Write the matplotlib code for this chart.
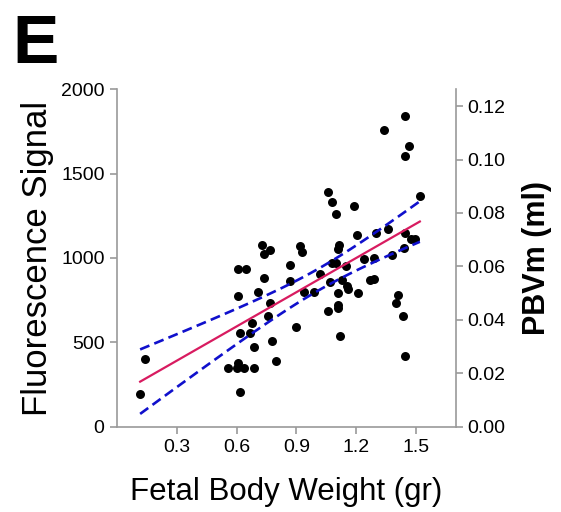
import numpy as np
import matplotlib
matplotlib.use("Agg")
import matplotlib.pyplot as plt

plt.rcParams['font.family'] = ['Liberation Sans', 'DejaVu Sans']

# Fetal body weight (gr) and fluorescence signal for each fetus
weight = [0.116, 0.138, 0.559, 0.601, 0.609, 0.639, 0.688, 0.619, 0.617, 0.668,
          0.680, 0.688, 0.609, 0.608, 0.649, 0.709, 0.739, 0.728, 0.739, 0.768,
          0.768, 0.758, 0.778, 0.798, 0.868, 0.868, 0.898, 0.918, 0.928, 0.940,
          0.989, 1.019, 1.061, 1.079, 1.099, 1.188, 1.061, 1.067, 1.077, 1.099,
          1.109, 1.116, 1.111, 1.111, 1.111, 1.119, 1.127, 1.151, 1.156, 1.161,
          1.209, 1.207, 1.239, 1.268, 1.289, 1.288, 1.299, 1.360, 1.338, 1.380,
          1.398, 1.410, 1.437, 1.447, 1.447, 1.468, 1.447, 1.448, 1.438, 1.478,
          1.498, 1.520]
signal = [194, 399, 346, 346, 379, 346, 346, 208, 557, 553,
          613, 474, 775, 937, 937, 798, 883, 1079, 1024, 1047,
          731, 656, 506, 387, 957, 866, 589, 1073, 1038, 798,
          798, 903, 1393, 1330, 1261, 1308, 688, 858, 972, 972,
          1055, 1075, 791, 723, 704, 540, 870, 953, 834, 816,
          791, 1138, 992, 870, 875, 1000, 1146, 1172, 1761, 1016,
          735, 779, 656, 421, 1842, 1664, 1603, 1146, 1057, 1111,
          1111, 1368]

x_ticks = [0.3, 0.6, 0.9, 1.2, 1.5]
left_ticks = [0, 500, 1000, 1500, 2000]
right_ticks = [0.00, 0.02, 0.04, 0.06, 0.08, 0.10, 0.12]

x = np.asarray(weight)
y = np.asarray(signal)

# Linear regression with 95% confidence band of the mean
n = len(x)
slope, intercept = np.polyfit(x, y, 1)
resid = y - (slope * x + intercept)
s = np.sqrt(np.sum(resid ** 2) / (n - 2))
sxx = np.sum((x - x.mean()) ** 2)
t_crit = 1.994  # t(0.975, df=70)
xf = np.linspace(x.min(), x.max(), 100)
yf = slope * xf + intercept
half = t_crit * s * np.sqrt(1.0 / n + (xf - x.mean()) ** 2 / sxx)

fig = plt.figure(figsize=(5.61, 5.12), dpi=100)
ax = fig.add_axes([0.2086, 0.1666, 0.6037, 0.659])

spine_col = '#9a9a9a'
ax.scatter(x, y, s=42, color='black', zorder=3, linewidths=0)
ax.plot(xf, yf, color='#d81b60', lw=1.6, zorder=4)
ax.plot(xf, yf + half, color='#1010cc', lw=1.9, ls=(0, (3.8, 2.0)), zorder=4)
ax.plot(xf, yf - half, color='#1010cc', lw=1.9, ls=(0, (3.8, 2.0)), zorder=4)

ax.set_xlim(0, 1.7)
ax.set_ylim(0, 2000)
ax.set_xticks(x_ticks)
ax.set_xticklabels([f"{v:.1f}" for v in x_ticks])
ax.set_yticks(left_ticks)

for side in ['top', 'right']:
    ax.spines[side].set_visible(False)
for side in ['left', 'bottom']:
    ax.spines[side].set_color(spine_col)
    ax.spines[side].set_linewidth(1.2)
ax.tick_params(axis='both', colors=spine_col, labelcolor='black', labelsize=14,
               length=5, width=1.2, pad=4)

ax.set_xlabel('Fetal Body Weight (gr)', fontsize=22.5, labelpad=15)
ax.set_ylabel('Fluorescence Signal', fontsize=25, labelpad=5)

ax2 = ax.twinx()
ax2.set_ylim(0, 0.1263)
ax2.set_yticks(right_ticks)
ax2.set_yticklabels([f"{v:.2f}" for v in right_ticks])
for side in ['top', 'left', 'bottom']:
    ax2.spines[side].set_visible(False)
ax2.spines['right'].set_color(spine_col)
ax2.spines['right'].set_linewidth(1.2)
ax2.tick_params(axis='y', colors=spine_col, labelcolor='black', labelsize=14,
                length=5, width=1.2, pad=3)
ax2.set_ylabel('PBVm (ml)', fontsize=22, fontweight='bold', labelpad=12)

fig.text(0.022, 0.877, 'E', fontsize=50, fontweight='bold', ha='left', va='baseline')

fig.savefig('out.png', dpi=100)
